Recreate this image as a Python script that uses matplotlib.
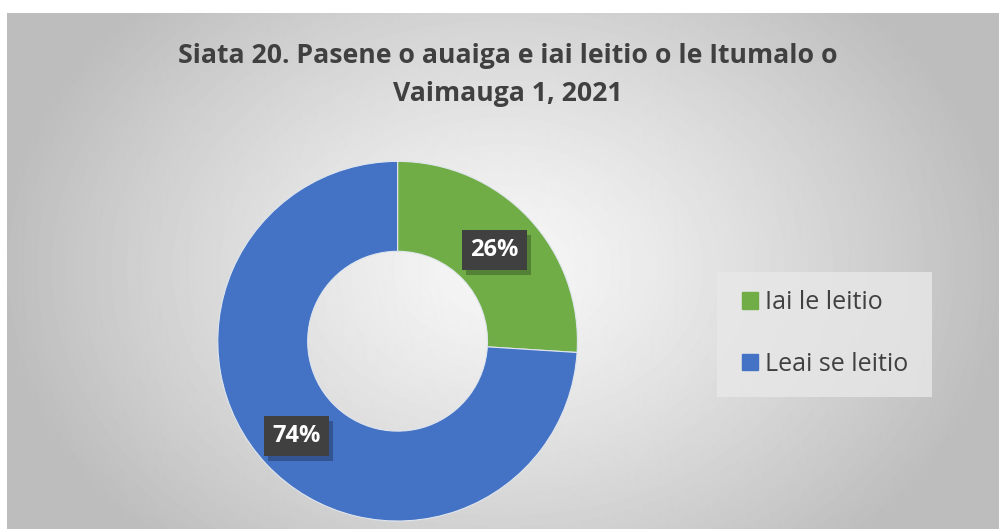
import matplotlib.pyplot as plt
import numpy as np
from matplotlib.patches import Rectangle

categories = ['Iai le leitio', 'Leai se leitio']
shares = [26, 74]
colors = ['#70AD47', '#4472C4']
title = 'Siata 20. Pasene o auaiga e iai leitio o le Itumalo o\nVaimauga 1, 2021'

plt.rcParams['font.family'] = ['Open Sans', 'DejaVu Sans']

fig = plt.figure(figsize=(9.99, 5.29), dpi=100)

# radial gray background of the chart area
bg = fig.add_axes([0.007, 0, 0.993, 0.975])
yy, xx = np.mgrid[0:516, 0:992]
dist = np.sqrt(((xx - 495) / 560.0) ** 2 + ((yy - 255) / 420.0) ** 2)
shade = np.clip(0.97 - 0.26 * dist ** 1.2, 0.74, 1.0)
bg.imshow(shade, cmap='gray', vmin=0, vmax=1, aspect='auto')
bg.axis('off')

# legend panel
fig.add_artist(Rectangle((717 / 999, 1 - 397 / 529), 215 / 999, 125 / 529,
                         transform=fig.transFigure, fc='#e8e8e8', ec='none', alpha=0.8))

fig.text(0.508, 0.858, title, ha='center', va='center', fontsize=19.2,
         fontweight='bold', color='#404040', linespacing=1.6)

ax = fig.add_axes([0.218, 0.015, 0.36, 0.68])
wedges, _ = ax.pie(shares, colors=colors, startangle=90, counterclock=False,
                   radius=1.0, wedgeprops=dict(width=0.5, edgecolor='#dfe6ee', linewidth=0.8))
ax.set_xlim(-1, 1)
ax.set_ylim(-1, 1)
ax.set_aspect('equal')

labels = []
for w, s in zip(wedges, shares):
    ang = np.deg2rad((w.theta1 + w.theta2) / 2)
    r = 0.74 if s < 50 else 0.77
    x, y = r * np.cos(ang), r * np.sin(ang)
    t = ax.text(x, y, f'{s}%', ha='center', va='center', fontsize=17,
                fontweight='bold', color='white', zorder=6,
                bbox=dict(boxstyle='square,pad=0.35', fc='#404040', ec='none'))
    labels.append(t)

# drop shadow behind each label box
fig.canvas.draw()
inv = ax.transData.inverted()
for t in labels:
    bb = t.get_bbox_patch().get_window_extent()
    (x0, y0), (x1, y1) = inv.transform([(bb.x0 + 4, bb.y0 - 5), (bb.x1 + 4, bb.y1 - 5)])
    ax.add_patch(Rectangle((x0, y0), x1 - x0, y1 - y0, fc='black', ec='none',
                           alpha=0.25, zorder=4))

handles = [plt.Rectangle((0, 0), 1, 1, color=c) for c in colors]
leg = fig.legend(handles, categories, loc='center',
                 bbox_to_anchor=(825 / 999, 1 - 333.5 / 529),
                 fontsize=18, frameon=False, labelcolor='#404040',
                 handlelength=0.65, handleheight=0.65, handletextpad=0.3,
                 labelspacing=1.47, borderpad=0, borderaxespad=0)

fig.savefig('out.png', dpi=100)
